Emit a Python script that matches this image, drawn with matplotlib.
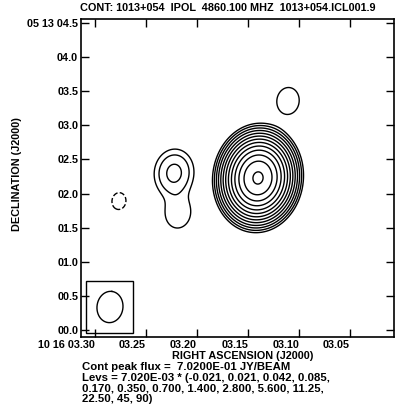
import matplotlib
matplotlib.use("Agg")
import matplotlib.pyplot as plt
from matplotlib.patches import Rectangle
import numpy as np

# source components: RA seconds (10 16 ss.ss), Dec arcsec (05 13 ss.s), peak Jy/beam
comp_ra = [3.1402, 3.2225, 3.2186, 3.1108, 3.2765]
comp_dec = [2.229, 2.302, 1.716, 3.358, 1.890]
comp_flux = [0.702, 7.4e-4, 2.8e-4, 2.46e-4, -1.8e-4]

peak_flux = 0.702
lev_unit = 7.02e-3
lev_mult = [-0.021, 0.021, 0.042, 0.085, 0.170, 0.350, 0.700, 1.400,
            2.800, 5.600, 11.25, 22.50, 45, 90]

# restoring beam (arcsec, deg) and where it is drawn
bmaj, bmin, bpa = 0.46, 0.38, -7.0
beam_ra, beam_dec = 3.2853, 0.337
box_ra = [3.3088, 3.2627]
box_dec = [-0.044, 0.718]

xticks = [3.30, 3.25, 3.20, 3.15, 3.10, 3.05]
xlabels = ["10 16 03.30", "03.25", "03.20", "03.15", "03.10", "03.05"]
yticks = [0.0, 0.5, 1.0, 1.5, 2.0, 2.5, 3.0, 3.5, 4.0, 4.5]
ylabels = ["00.0", "00.5", "01.0", "01.5", "02.0", "02.5", "03.0", "03.5",
           "04.0", "05 13 04.5"]

SEC2AS = 15 * np.cos(np.radians(5.22))  # arcsec per RA second

plt.rcParams['font.family'] = ['Liberation Sans', 'DejaVu Sans']
plt.rcParams['font.weight'] = 'bold'
FS = 7.8

fig = plt.figure(figsize=(4.05, 4.12), dpi=100)
ax = fig.add_axes([81 / 405, 1 - 337 / 412, 313 / 405, 318 / 412])

# image: point sources convolved with the beam
ra = np.linspace(3.3137, 3.0069, 500)
dec = np.linspace(-0.103, 4.560, 500)
RA, DEC = np.meshgrid(ra, dec)
smaj = bmaj / 2.3548
smin = bmin / 2.3548
pa = np.radians(bpa)
img = np.zeros_like(RA)
for r0, d0, s in zip(comp_ra, comp_dec, comp_flux):
    dx = (RA - r0) * SEC2AS
    dy = DEC - d0
    u = dx * np.sin(pa) + dy * np.cos(pa)
    v = dx * np.cos(pa) - dy * np.sin(pa)
    img += s * np.exp(-u ** 2 / (2 * smaj ** 2) - v ** 2 / (2 * smin ** 2))

levels = sorted(lev_unit * np.array(lev_mult))
ax.contour(RA, DEC, img, levels=levels, colors='k', linewidths=1.0,
           negative_linestyles='dashed')

# beam
t = np.linspace(0, 2 * np.pi, 200)
u = bmaj / 2 * np.cos(t)
v = bmin / 2 * np.sin(t)
east = u * np.sin(pa) + v * np.cos(pa)
north = u * np.cos(pa) - v * np.sin(pa)
ax.plot(beam_ra + east / SEC2AS, beam_dec + north, color='k', lw=1.0)
ax.add_patch(Rectangle((box_ra[1], box_dec[0]), box_ra[0] - box_ra[1],
                       box_dec[1] - box_dec[0], fill=False, ec='k', lw=1.0))

ax.set_xlim(3.3137, 3.0069)
ax.set_ylim(-0.103, 4.560)
ax.set_xticks(xticks)
ax.set_xticklabels(xlabels, fontsize=FS, fontweight='bold')
ax.set_yticks(yticks)
ax.set_yticklabels(ylabels, fontsize=FS, fontweight='bold')
for lab in ax.get_xticklabels():
    lab.set_horizontalalignment('right')
ax.tick_params(direction='in', length=6, width=1.0, top=True, right=True)
ax.tick_params(axis='x', pad=2.5)
ax.tick_params(axis='y', pad=2)
for sp in ax.spines.values():
    sp.set_linewidth(1.2)

fig.text(80 / 405, 1 - 8 / 412,
         "CONT: 1013+054  IPOL  4860.100 MHZ  1013+054.ICL001.9",
         fontsize=FS, fontweight='bold', ha='left', va='center')
fig.text(243 / 405, 1 - 356 / 412, "RIGHT ASCENSION (J2000)",
         fontsize=FS, fontweight='bold', ha='center', va='center')
fig.text(17 / 405, 1 - 174 / 412, "DECLINATION (J2000)", rotation=90,
         fontsize=FS, fontweight='bold', ha='center', va='center')

notes = ["Cont peak flux =  7.0200E-01 JY/BEAM",
         "Levs = 7.020E-03 * (-0.021, 0.021, 0.042, 0.085,",
         "0.170, 0.350, 0.700, 1.400, 2.800, 5.600, 11.25,",
         "22.50, 45, 90)"]
for i, line in enumerate(notes):
    fig.text(82 / 405, 1 - (367.5 + 10.6 * i) / 412, line,
             fontsize=8.2, fontweight='bold', ha='left', va='center')

fig.savefig("out.png", dpi=100)
